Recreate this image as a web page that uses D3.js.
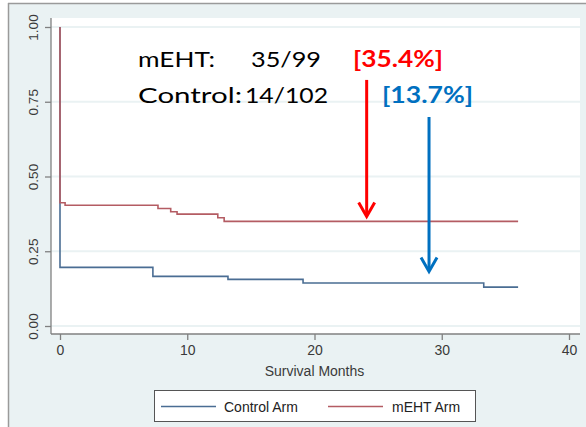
<!DOCTYPE html>
<html><head><meta charset="utf-8">
<script src="https://cdn.jsdelivr.net/npm/d3@7"></script>
<style>html,body{margin:0;padding:0;background:#fff}svg{display:block}</style>
</head><body><svg id="c" width="586" height="427"></svg>
<script>
// ---- data ----
const controlTime = [0, 0, 7.3, 13.2, 19.1, 33.3, 36];
const controlSurv = [1.0, 0.196, 0.166, 0.156, 0.144, 0.130, 0.130];
const mehtTime = [0, 0, 0.4, 7.7, 8.7, 9.2, 12.4, 12.9, 36];
const mehtSurv = [1.0, 0.412, 0.404, 0.393, 0.382, 0.374, 0.362, 0.350, 0.350];
const xTicks = [0, 10, 20, 30, 40];
const yTicks = [0, 0.25, 0.5, 0.75, 1.0];
const seriesNames = ["Control Arm", "mEHT Arm"];
const annoRows = [
  {label: "mEHT:", count: "35/99", pct: "[35.4%]"},
  {label: "Control:", count: "14/102", pct: "[13.7%]"}
];
const arrowPts = [ // [month, fromSurv, toSurv]
  [24.1, 0.823, 0.366],
  [29.0, 0.699, 0.182]
];

const svg = d3.select("#c");
const W = 586, H = 427;
const colControl = "#4a6d93", colMeht = "#b45c63";

// outer background
svg.append("rect").attr("x",0).attr("y",0).attr("width",W).attr("height",H).attr("fill","#fff");
svg.append("rect").attr("x",8).attr("y",3).attr("width",W-8).attr("height",H-3).attr("fill","#eaf2f3");
svg.append("line").attr("x1",8).attr("x2",W).attr("y1",3.5).attr("y2",3.5).attr("stroke","#9a9a9a").attr("stroke-width",1.5);
svg.append("line").attr("x1",8.5).attr("x2",8.5).attr("y1",3).attr("y2",H).attr("stroke","#9a9a9a").attr("stroke-width",1.5);

const x = d3.scaleLinear().domain([0,40]).range([60,569]);
const y = d3.scaleLinear().domain([0,1]).range([326,27]);

// plot region
svg.append("rect").attr("x",51).attr("y",18).attr("width",529).attr("height",316).attr("fill","#fff");

// gridlines
svg.append("g").selectAll("line").data(yTicks).join("line")
  .attr("x1",51).attr("x2",580).attr("y1",d=>y(d)).attr("y2",d=>y(d))
  .attr("stroke","#eaf2f3").attr("stroke-width",2);

// axes
const yAxis = d3.axisLeft(y).tickValues(yTicks).tickFormat(d3.format(".2f")).tickSize(6).tickPadding(5);
const gy = svg.append("g").attr("transform","translate(51,0)").call(yAxis);
gy.select(".domain").attr("d","M0,18V334").attr("stroke","#808080").attr("stroke-width",1.3);
gy.selectAll(".tick line").attr("stroke","#808080").attr("stroke-width",1.3);
gy.selectAll(".tick text").attr("transform","rotate(-90)").attr("x",0).attr("y",-18)
  .attr("dy","0.35em").attr("text-anchor","middle")
  .attr("font-family","Liberation Sans, Arial, sans-serif").attr("font-size",13.5).attr("fill","#3a3a3a");

const xAxis = d3.axisBottom(x).tickValues(xTicks).tickSize(6).tickPadding(5);
const gx = svg.append("g").attr("transform","translate(0,334)").call(xAxis);
gx.select(".domain").attr("d","M51,0H580").attr("stroke","#808080").attr("stroke-width",1.3);
gx.selectAll(".tick line").attr("stroke","#808080").attr("stroke-width",1.3);
gx.selectAll(".tick text").attr("font-family","Liberation Sans, Arial, sans-serif").attr("font-size",14).attr("fill","#3a3a3a");

svg.append("text").attr("x",x(20)).attr("y",376).attr("text-anchor","middle")
  .attr("font-family","Liberation Sans, Arial, sans-serif").attr("font-size",14).attr("fill","#3a3a3a")
  .text("Survival Months");

// curves
const line = d3.line().x(d=>x(d[0])).y(d=>y(d[1])).curve(d3.curveStepAfter);
const ctrl = controlTime.map((t,i)=>[t,controlSurv[i]]);
const meht = mehtTime.map((t,i)=>[t,mehtSurv[i]]);
svg.append("path").attr("d",line(ctrl)).attr("fill","none").attr("stroke",colControl).attr("stroke-width",1.6);
svg.append("path").attr("d",line(meht)).attr("fill","none").attr("stroke",colMeht).attr("stroke-width",1.6);

// legend
const lg = svg.append("g");
lg.append("rect").attr("x",154.5).attr("y",390.5).attr("width",321).attr("height",31).attr("fill","#fff").attr("stroke","#555").attr("stroke-width",1);
[[161,216,224,colControl],[328,383,392,colMeht]].forEach((p,i)=>{
  lg.append("line").attr("x1",p[0]).attr("x2",p[1]).attr("y1",406.5).attr("y2",406.5).attr("stroke",p[3]).attr("stroke-width",1.6);
  lg.append("text").attr("x",p[2]).attr("y",411.5).attr("font-family","Liberation Sans, Arial, sans-serif")
    .attr("font-size",14).attr("fill","#222").text(seriesNames[i]);
});

// annotation text
const af = "Lato, 'Open Sans', sans-serif";
const rowsY = [67, 103];
const cols = [
  [[138,77],[251,70],[353,90]],
  [[138,104],[245,83],[382,91]]
];
const pctCol = ["#ff0000","#0070c0"];
annoRows.forEach((r,i)=>{
  const yy = rowsY[i];
  svg.append("text").attr("x",cols[i][0][0]).attr("y",yy).attr("font-family",af).attr("font-size",22).attr("fill","#000")
    .attr("textLength",cols[i][0][1]).attr("lengthAdjust","spacingAndGlyphs").text(r.label);
  svg.append("text").attr("x",cols[i][1][0]).attr("y",yy).attr("font-family",af).attr("font-size",22).attr("fill","#000")
    .attr("textLength",cols[i][1][1]).attr("lengthAdjust","spacingAndGlyphs").text(r.count);
  svg.append("text").attr("x",cols[i][2][0]).attr("y",yy).attr("font-family",af).attr("font-size",22).attr("font-weight","bold").attr("fill",pctCol[i])
    .attr("textLength",cols[i][2][1]).attr("lengthAdjust","spacingAndGlyphs").text(r.pct);
});

// arrows
arrowPts.forEach((a,i)=>{
  const ax = x(a[0]), y0 = y(a[1]), y1 = y(a[2]);
  const g = svg.append("g").attr("stroke",pctCol[i]).attr("stroke-width",3).attr("fill","none").attr("stroke-linecap","butt");
  g.append("line").attr("x1",ax).attr("x2",ax).attr("y1",y0).attr("y2",y1-1.5);
  g.append("path").attr("d",`M${ax-8},${y1-14}L${ax},${y1}L${ax+8},${y1-14}`).attr("stroke-linejoin","miter");
});
</script></body></html>
